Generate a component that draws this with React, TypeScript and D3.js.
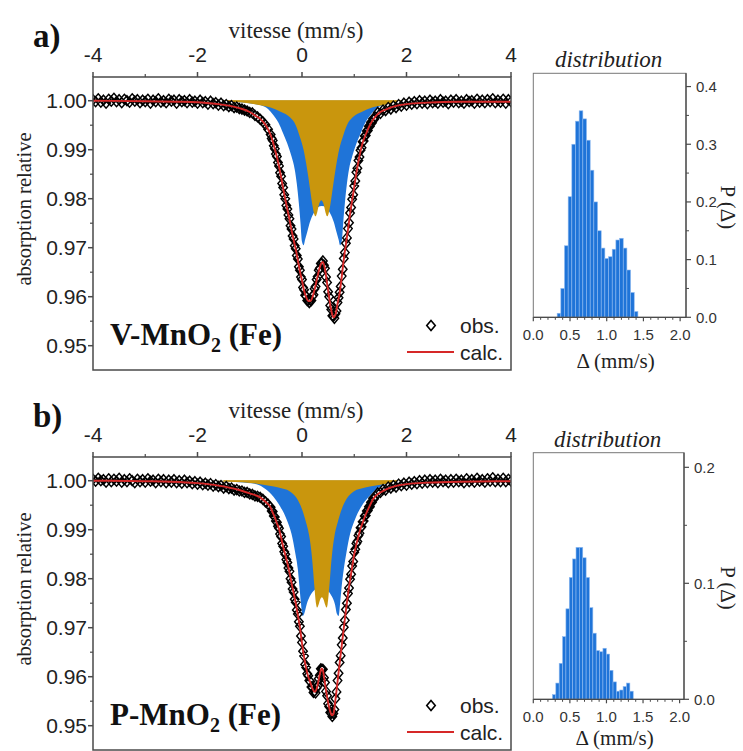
import React from "react";
import * as d3 from "d3";

// ---------- axis ticks ----------
const VEL_TICKS = [-4, -2, 0, 2, 4];
const VEL_MINOR = [-3, -1, 1, 3];
const ABS_TICKS = [0.95, 0.96, 0.97, 0.98, 0.99, 1.0];
const ABS_MINOR = [0.955, 0.965, 0.975, 0.985, 0.995];
const HIST_X_TICKS = [0, 0.5, 1.0, 1.5, 2.0];
const HIST_X_MINOR = [0.1, 0.2, 0.3, 0.4, 0.6, 0.7, 0.8, 0.9, 1.1, 1.2, 1.3, 1.4, 1.6, 1.7, 1.8, 1.9];
const HIST_A_TICKS = [0, 0.1, 0.2, 0.3, 0.4];
const HIST_A_MINOR = [0.05, 0.15, 0.25, 0.35];
const HIST_B_TICKS = [0, 0.1, 0.2];
const HIST_B_MINOR = [0.05, 0.15];

// ---------- velocity channels (mm/s) ----------
const VEL_LEFT = d3.range(68).map((i) => -4 + i * 0.05);
const VEL_DIP = d3.range(100).map((i) => -0.6 + i * 0.02);
const VEL_RIGHT = d3.range(53).map((i) => 1.4 + i * 0.05);
const VELOCITY = [...VEL_LEFT, ...VEL_DIP, ...VEL_RIGHT];

// ---------- panel a : V-MnO2 (Fe) observed ----------
const OBS_A_LEFT = [
  1.0002, 0.9998, 1.0004, 0.9997, 1.0001, 0.9995, 1.0003, 0.9999, 1.0005, 0.9998,
  1.0002, 0.9996, 1.0003, 1.0000, 0.9997, 1.0004, 0.9999, 1.0002, 0.9996, 1.0001,
  0.9998, 1.0003, 0.9995, 1.0001, 0.9998, 1.0004, 0.9997, 1.0000, 0.9996, 1.0003,
  0.9999, 1.0001, 0.9995, 1.0002, 0.9998, 1.0000, 0.9996, 1.0002, 0.9997, 0.9999,
  0.9995, 1.0001, 0.9996, 0.9998, 0.9993, 0.9999, 0.9994, 0.9996, 0.9991, 0.9995,
  0.9990, 0.9992, 0.9988, 0.9990, 0.9986, 0.9987, 0.9984, 0.9983, 0.9981, 0.9979,
  0.9976, 0.9975, 0.9970, 0.9967, 0.9962, 0.9957, 0.9951, 0.9942,
];
const OBS_A_DIP = [
  0.9931, 0.9923, 0.9919, 0.9908, 0.9902, 0.9891, 0.9886, 0.9874, 0.9867, 0.9853,
  0.9846, 0.9831, 0.9823, 0.9808, 0.9800, 0.9786, 0.9779, 0.9767, 0.9759, 0.9745,
  0.9738, 0.9724, 0.9718, 0.9704, 0.9698, 0.9684, 0.9677, 0.9661, 0.9654, 0.9640,
  0.9635, 0.9619, 0.9614, 0.9603, 0.9601, 0.9592, 0.9593, 0.9588, 0.9593, 0.9592,
  0.9601, 0.9604, 0.9616, 0.9621, 0.9635, 0.9641, 0.9654, 0.9658, 0.9668, 0.9668,
  0.9673, 0.9664, 0.9658, 0.9640, 0.9629, 0.9610, 0.9600, 0.9582, 0.9574, 0.9561,
  0.9560, 0.9556, 0.9565, 0.9571, 0.9588, 0.9598, 0.9609, 0.9621, 0.9642, 0.9656,
  0.9678, 0.9690, 0.9709, 0.9720, 0.9739, 0.9751, 0.9771, 0.9782, 0.9799, 0.9808,
  0.9826, 0.9836, 0.9854, 0.9862, 0.9878, 0.9885, 0.9899, 0.9904, 0.9916, 0.9918,
  0.9928, 0.9929, 0.9938, 0.9939, 0.9948, 0.9948, 0.9956, 0.9955, 0.9963, 0.9962,
];
const OBS_A_RIGHT = [
  0.9967, 0.9976, 0.9974, 0.9981, 0.9980, 0.9986, 0.9983, 0.9989, 0.9986, 0.9992,
  0.9989, 0.9995, 0.9991, 0.9997, 0.9993, 0.9998, 0.9994, 1.0000, 0.9995, 0.9999,
  0.9994, 1.0001, 0.9996, 0.9999, 0.9995, 1.0002, 0.9997, 0.9999, 0.9994, 1.0001,
  0.9997, 1.0002, 0.9996, 0.9999, 0.9995, 1.0002, 0.9998, 1.0000, 0.9995, 1.0003,
  0.9997, 1.0001, 0.9996, 1.0002, 0.9998, 1.0004, 0.9996, 1.0001, 0.9997, 1.0003,
  0.9995, 1.0002, 0.9998,
];
const OBS_A = [...OBS_A_LEFT, ...OBS_A_DIP, ...OBS_A_RIGHT];

const CALC_A: [number, number][] = [
  [-4, 1.0], [-3, 0.9999], [-2.4, 0.9998], [-2, 0.9997], [-1.6, 0.9993], [-1.4, 0.999],
  [-1.2, 0.9985], [-1.0, 0.9977], [-0.9, 0.997], [-0.8, 0.9963], [-0.7, 0.9951], [-0.6, 0.993],
  [-0.56, 0.9917], [-0.52, 0.9901], [-0.48, 0.9885], [-0.44, 0.9866], [-0.4, 0.9844],
  [-0.36, 0.9821], [-0.32, 0.9799], [-0.28, 0.9778], [-0.24, 0.9758], [-0.2, 0.9736],
  [-0.16, 0.9716], [-0.12, 0.9697], [-0.08, 0.9675], [-0.04, 0.9652], [0.0, 0.9633],
  [0.04, 0.9612], [0.08, 0.9599], [0.12, 0.9591], [0.16, 0.9591], [0.2, 0.9599],
  [0.24, 0.9614], [0.28, 0.9633], [0.32, 0.9652], [0.36, 0.9666], [0.4, 0.9671],
  [0.44, 0.9656], [0.48, 0.9627], [0.52, 0.9598], [0.56, 0.9572], [0.6, 0.9558],
  [0.64, 0.9563], [0.68, 0.9586], [0.72, 0.9607], [0.76, 0.964], [0.8, 0.9676],
  [0.84, 0.9707], [0.88, 0.9737], [0.92, 0.9769], [0.96, 0.9797], [1.0, 0.9824],
  [1.04, 0.9852], [1.08, 0.9876], [1.12, 0.9897], [1.16, 0.9914], [1.2, 0.9926],
  [1.24, 0.9936], [1.28, 0.9946], [1.32, 0.9954], [1.36, 0.9961], [1.4, 0.9967],
  [1.5, 0.9977], [1.6, 0.9982], [1.75, 0.9988], [2.0, 0.9993], [2.4, 0.9996],
  [3.0, 0.9998], [4.0, 0.9998],
];
const BLUE_A: [number, number][] = [
  [-4, 1], [-1.6, 0.9999], [-1.2, 0.9997], [-0.95, 0.9994], [-0.8, 0.9991], [-0.65, 0.9983],
  [-0.55, 0.9971], [-0.45, 0.9955], [-0.36, 0.9933], [-0.28, 0.9912], [-0.2, 0.9886],
  [-0.14, 0.986], [-0.1, 0.9831], [-0.06, 0.979], [-0.03, 0.9752], [0.0, 0.9712],
  [0.03, 0.9705], [0.06, 0.9717], [0.1, 0.9732], [0.15, 0.9752], [0.22, 0.977],
  [0.3, 0.9782], [0.38, 0.9785], [0.46, 0.9782], [0.54, 0.977], [0.61, 0.9752],
  [0.66, 0.9732], [0.7, 0.9717], [0.73, 0.9705], [0.76, 0.9712], [0.79, 0.9752],
  [0.82, 0.979], [0.86, 0.9831], [0.9, 0.986], [0.96, 0.9886], [1.04, 0.9912],
  [1.12, 0.9933], [1.21, 0.9955], [1.31, 0.9971], [1.41, 0.9983], [1.56, 0.9991],
  [1.71, 0.9994], [1.96, 0.9997], [2.4, 0.9999], [4, 1],
];
const GOLD_A: [number, number][] = [
  [-4, 1], [-1.4, 0.9998], [-0.9, 0.9993], [-0.6, 0.9986], [-0.4, 0.9977], [-0.23, 0.9966],
  [-0.12, 0.995], [-0.04, 0.9926], [0.03, 0.99], [0.08, 0.9872], [0.12, 0.9845],
  [0.16, 0.9815], [0.2, 0.9786], [0.23, 0.977], [0.26, 0.9764], [0.29, 0.9772],
  [0.33, 0.979], [0.37, 0.9797], [0.41, 0.979], [0.45, 0.9772], [0.48, 0.9764],
  [0.51, 0.977], [0.54, 0.9786], [0.58, 0.9815], [0.62, 0.9845], [0.66, 0.9872],
  [0.71, 0.99], [0.78, 0.9926], [0.86, 0.995], [0.97, 0.9966], [1.14, 0.9977],
  [1.34, 0.9986], [1.64, 0.9993], [2.14, 0.9998], [4, 1],
];

// ---------- panel b : P-MnO2 (Fe) observed ----------
const OBS_B_LEFT = [
  1.0003, 0.9999, 1.0005, 1.0000, 1.0002, 0.9997, 1.0004, 0.9998, 1.0003, 0.9999,
  1.0005, 0.9997, 1.0002, 0.9998, 1.0004, 1.0000, 0.9996, 1.0003, 0.9998, 1.0002,
  0.9997, 1.0004, 0.9999, 1.0001, 0.9996, 1.0003, 0.9998, 1.0002, 0.9996, 1.0001,
  0.9997, 1.0002, 0.9996, 1.0000, 0.9995, 1.0001, 0.9996, 0.9999, 0.9994, 0.9998,
  0.9993, 0.9997, 0.9992, 0.9995, 0.9991, 0.9994, 0.9989, 0.9992, 0.9988, 0.9990,
  0.9985, 0.9988, 0.9984, 0.9985, 0.9981, 0.9982, 0.9979, 0.9979, 0.9976, 0.9976,
  0.9973, 0.9972, 0.9969, 0.9968, 0.9966, 0.9962, 0.9957, 0.9952,
];
const OBS_B_DIP = [
  0.9946, 0.9938, 0.9937, 0.9928, 0.9926, 0.9918, 0.9915, 0.9907, 0.9903, 0.9891,
  0.9886, 0.9872, 0.9866, 0.9855, 0.9850, 0.9839, 0.9833, 0.9822, 0.9815, 0.9800,
  0.9793, 0.9779, 0.9773, 0.9758, 0.9752, 0.9736, 0.9728, 0.9712, 0.9703, 0.9683,
  0.9670, 0.9652, 0.9642, 0.9625, 0.9619, 0.9606, 0.9602, 0.9592, 0.9590, 0.9579,
  0.9578, 0.9568, 0.9571, 0.9567, 0.9577, 0.9581, 0.9596, 0.9603, 0.9616, 0.9615,
  0.9615, 0.9598, 0.9588, 0.9570, 0.9561, 0.9545, 0.9539, 0.9527, 0.9525, 0.9519,
  0.9525, 0.9533, 0.9555, 0.9569, 0.9592, 0.9607, 0.9629, 0.9643, 0.9665, 0.9679,
  0.9701, 0.9715, 0.9737, 0.9750, 0.9770, 0.9781, 0.9799, 0.9809, 0.9826, 0.9835,
  0.9854, 0.9860, 0.9872, 0.9876, 0.9888, 0.9893, 0.9904, 0.9906, 0.9916, 0.9918,
  0.9928, 0.9929, 0.9938, 0.9939, 0.9947, 0.9947, 0.9956, 0.9956, 0.9964, 0.9963,
];
const OBS_B_RIGHT = [
  0.9968, 0.9975, 0.9976, 0.9982, 0.9981, 0.9987, 0.9985, 0.9990, 0.9987, 0.9993,
  0.9990, 0.9995, 0.9991, 0.9997, 0.9993, 0.9998, 0.9994, 1.0000, 0.9995, 1.0001,
  0.9996, 1.0002, 0.9997, 1.0001, 0.9996, 1.0003, 0.9998, 1.0001, 0.9996, 1.0002,
  0.9997, 1.0003, 0.9998, 1.0001, 0.9996, 1.0004, 0.9998, 1.0002, 0.9997, 1.0005,
  0.9999, 1.0002, 0.9997, 1.0004, 0.9999, 1.0006, 0.9998, 1.0003, 0.9998, 1.0005,
  0.9998, 1.0003, 0.9999,
];
const OBS_B = [...OBS_B_LEFT, ...OBS_B_DIP, ...OBS_B_RIGHT];

const CALC_B: [number, number][] = [
  [-4, 1.0], [-3, 0.9999], [-2.5, 0.9998], [-2, 0.9995], [-1.6, 0.999], [-1.2, 0.9981],
  [-1.0, 0.9974], [-0.8, 0.9966], [-0.7, 0.9957], [-0.6, 0.9945],
  [-0.56, 0.9935], [-0.52, 0.9925], [-0.48, 0.9913], [-0.44, 0.9902], [-0.4, 0.9884],
  [-0.36, 0.9865], [-0.32, 0.9849], [-0.28, 0.9832], [-0.24, 0.9813], [-0.2, 0.9791],
  [-0.16, 0.9771], [-0.12, 0.975], [-0.08, 0.9726], [-0.04, 0.9701], [0.0, 0.9668],
  [0.04, 0.964], [0.08, 0.9617], [0.12, 0.96], [0.16, 0.9588], [0.2, 0.9576],
  [0.24, 0.9569], [0.28, 0.9575], [0.32, 0.9594], [0.36, 0.9613], [0.38, 0.9617],
  [0.4, 0.9613], [0.44, 0.9586], [0.48, 0.9559], [0.52, 0.9537], [0.56, 0.9523],
  [0.58, 0.9521], [0.6, 0.9523], [0.64, 0.9553], [0.68, 0.959], [0.72, 0.9627],
  [0.76, 0.9663], [0.8, 0.9699], [0.84, 0.9735], [0.88, 0.9768], [0.92, 0.9797],
  [0.96, 0.9824], [1.0, 0.985], [1.04, 0.987], [1.08, 0.9886], [1.12, 0.9902],
  [1.16, 0.9914], [1.2, 0.9926], [1.24, 0.9936], [1.28, 0.9945], [1.32, 0.9954],
  [1.36, 0.9962], [1.4, 0.9968], [1.5, 0.9976], [1.6, 0.9982], [1.75, 0.9988],
  [2.0, 0.9993], [2.4, 0.9996], [3.0, 0.9998], [4.0, 0.9999],
];
const BLUE_B: [number, number][] = [
  [-4, 1], [-1.6, 0.9999], [-1.2, 0.9997], [-0.87, 0.9993], [-0.7, 0.9983], [-0.55, 0.9968],
  [-0.42, 0.9948], [-0.29, 0.992], [-0.2, 0.9891], [-0.13, 0.9853], [-0.08, 0.982],
  [-0.05, 0.9785], [-0.02, 0.975], [0.01, 0.9724], [0.04, 0.9728], [0.09, 0.9748],
  [0.15, 0.9764], [0.22, 0.9775], [0.3, 0.9782], [0.36, 0.9784], [0.42, 0.9782],
  [0.5, 0.9775], [0.57, 0.9764], [0.63, 0.9748], [0.67, 0.9728], [0.7, 0.9724],
  [0.73, 0.975], [0.76, 0.9785], [0.8, 0.982], [0.85, 0.9853], [0.92, 0.9891],
  [1.01, 0.992], [1.14, 0.9948], [1.27, 0.9966], [1.43, 0.9983], [1.6, 0.9993],
  [1.95, 0.9997], [2.4, 0.9999], [4, 1],
];
const GOLD_B: [number, number][] = [
  [-4, 1], [-1.4, 0.9998], [-0.8, 0.9993], [-0.45, 0.9986], [-0.23, 0.9978], [-0.1, 0.9964],
  [0.0, 0.9942], [0.07, 0.9918], [0.14, 0.9886], [0.18, 0.9855], [0.21, 0.982],
  [0.24, 0.978], [0.27, 0.9748], [0.29, 0.9741], [0.32, 0.9748], [0.35, 0.9758],
  [0.38, 0.9762], [0.41, 0.9758], [0.44, 0.9748], [0.47, 0.9741], [0.49, 0.9748],
  [0.52, 0.978], [0.55, 0.982], [0.58, 0.9855], [0.62, 0.9886], [0.69, 0.9918],
  [0.76, 0.9942], [0.86, 0.9964], [0.99, 0.9978], [1.21, 0.9986], [1.56, 0.9993],
  [2.16, 0.9998], [4, 1],
];

// ---------- quadrupole splitting distributions ----------
const DELTA_A = [0.35, 0.4, 0.45, 0.5, 0.55, 0.6, 0.65, 0.7, 0.75, 0.8, 0.85, 0.9, 0.95, 1.0, 1.05, 1.1, 1.15, 1.2, 1.25, 1.3, 1.35, 1.4];
const PROB_A = [0.007, 0.05, 0.124, 0.209, 0.3, 0.34, 0.358, 0.344, 0.307, 0.255, 0.2, 0.15, 0.12, 0.102, 0.105, 0.118, 0.134, 0.137, 0.12, 0.082, 0.043, 0.01];
const DELTA_B = [0.285, 0.331, 0.377, 0.423, 0.469, 0.515, 0.561, 0.607, 0.653, 0.699, 0.745, 0.791, 0.837, 0.883, 0.929, 0.975, 1.021, 1.067, 1.113, 1.159, 1.205, 1.251, 1.297, 1.343];
const PROB_B = [0.004, 0.014, 0.031, 0.054, 0.078, 0.105, 0.121, 0.131, 0.131, 0.122, 0.105, 0.079, 0.057, 0.042, 0.041, 0.044, 0.039, 0.025, 0.015, 0.007, 0.008, 0.011, 0.014, 0.007];

const SERIF = "'Liberation Serif', 'Times New Roman', serif";
const SANS = "'Liberation Sans', Arial, sans-serif";
const BLUE = "#1f74d8";
const GOLD = "#c9960d";
const RED = "#d62828";
const AXIS = "#4a4a4a";

function diamondPath(cx: number, cy: number, r: number) {
  return `M${cx},${cy - r}L${cx + r * 0.85},${cy}L${cx},${cy + r}L${cx - r * 0.85},${cy}Z`;
}

type SpecProps = {
  top: number;
  obs: number[];
  calc: [number, number][];
  blue: [number, number][];
  gold: [number, number][];
  tag: string;
  sample: string;
  id: string;
};

function Spectrum({ top, obs, calc, blue, gold, tag, sample, id }: SpecProps) {
  const left = 93, right = 511, h = 293;
  const bottom = top + h;
  const x = d3.scaleLinear().domain([-4, 4]).range([left, right]);
  const y = d3.scaleLinear().domain([0.94504, 1.00484]).range([bottom, top]);
  const area = d3
    .area<[number, number]>()
    .x((d) => x(d[0]))
    .y0(y(1.0))
    .y1((d) => y(d[1]))
    .curve(d3.curveMonotoneX);
  const line = d3
    .line<[number, number]>()
    .x((d) => x(d[0]))
    .y((d) => y(d[1]))
    .curve(d3.curveMonotoneX);
  const pts = VELOCITY.map((v, i) => [v, obs[i]] as [number, number]);
  const diamonds = pts.map((p) => diamondPath(x(p[0]), y(p[1]), 5)).join("");
  return (
    <g>
      <defs>
        <clipPath id={id}>
          <rect x={left} y={top} width={right - left} height={h} />
        </clipPath>
      </defs>
      <g clipPath={`url(#${id})`}>
        <path d={area(blue) || ""} fill={BLUE} />
        <path d={area(gold) || ""} fill={GOLD} />
        <line x1={x(-1.5)} x2={x(2.2)} y1={y(1.0)} y2={y(1.0)} stroke={GOLD} strokeWidth={1} />
        <path d={diamonds} fill="#fff" stroke="#000" strokeWidth={1.45} />
        <path d={line(calc) || ""} fill="none" stroke={RED} strokeWidth={1.9} />
      </g>
      {/* frame */}
      <rect x={left} y={top} width={right - left} height={h} fill="none" stroke={AXIS} strokeWidth={1.5} />
      {/* top axis */}
      {VEL_TICKS.map((t) => (
        <g key={"vt" + t}>
          <line x1={x(t)} x2={x(t)} y1={top} y2={top - 5} stroke={AXIS} strokeWidth={1.5} />
          <text x={x(t)} y={top - 15} textAnchor="middle" fontFamily={SANS} fontSize={21} fill="#222">
            {t}
          </text>
        </g>
      ))}
      {VEL_MINOR.map((t) => (
        <line key={"vm" + t} x1={x(t)} x2={x(t)} y1={top} y2={top - 3} stroke={AXIS} strokeWidth={1.2} />
      ))}
      {/* left axis */}
      {ABS_TICKS.map((t) => (
        <g key={"at" + t}>
          <line x1={left} x2={left - 5} y1={y(t)} y2={y(t)} stroke={AXIS} strokeWidth={1.5} />
          <text x={left - 6} y={y(t) + 7.5} textAnchor="end" fontFamily={SANS} fontSize={21} fill="#222">
            {t.toFixed(2)}
          </text>
        </g>
      ))}
      {ABS_MINOR.map((t) => (
        <line key={"am" + t} x1={left} x2={left - 3} y1={y(t)} y2={y(t)} stroke={AXIS} strokeWidth={1.2} />
      ))}
      <text x={(left + right) / 2 - 6} y={top - 39} textAnchor="middle" fontFamily={SERIF} fontSize={23} fill="#222">
        vitesse (mm/s)
      </text>
      <text
        transform={`translate(31, ${top + 132}) rotate(-90)`}
        textAnchor="middle"
        fontFamily={SERIF}
        fontSize={20.5}
        fill="#222"
      >
        absorption relative
      </text>
      <text x={33} y={top - 30} fontFamily={SERIF} fontWeight="bold" fontSize={33} fill="#111">
        {tag}
      </text>
      {/* sample name */}
      <text x={110} y={bottom - 25} fontFamily={SERIF} fontWeight="bold" fontSize={31} fill="#111">
        {sample}
        <tspan fontSize={20} dy={7}>2</tspan>
        <tspan dy={-7}>{"\u00A0(Fe)"}</tspan>
      </text>
      {/* legend */}
      <path d={diamondPath(431, bottom - 44.5, 5)} fill="#fff" stroke="#000" strokeWidth={1.6} />
      <text x={460} y={bottom - 37} fontFamily={SANS} fontSize={21} fill="#222">obs.</text>
      <line x1={407} x2={454} y1={bottom - 18} y2={bottom - 18} stroke={RED} strokeWidth={2} />
      <text x={460} y={bottom - 10.5} fontFamily={SANS} fontSize={21} fill="#222">calc.</text>
    </g>
  );
}

type HistProps = {
  top: number;
  bottom: number;
  right: number;
  xMax: number;
  yMax: number;
  deltas: number[];
  probs: number[];
  width: number;
  ticks: number[];
  minor: number[];
  labelY: number;
};

function Hist({ top, bottom, right, xMax, yMax, deltas, probs, width, ticks, minor, labelY }: HistProps) {
  const left = 533.3;
  const x = d3.scaleLinear().domain([0, xMax]).range([left, right]);
  const y = d3.scaleLinear().domain([0, yMax]).range([bottom, top]);
  const cx = (left + right) / 2;
  return (
    <g>
      {deltas.map((d, i) => (
        <rect
          key={i}
          x={x(d - width / 2)}
          y={y(probs[i])}
          width={x(d + width / 2) - x(d - width / 2)}
          height={y(0) - y(probs[i])}
          fill={BLUE}
          stroke="#8fbaf0"
          strokeWidth={0.6}
        />
      ))}
      <rect x={left} y={top} width={right - left} height={bottom - top} fill="none" stroke="#777" strokeWidth={1} />
      <line x1={left} x2={right} y1={bottom} y2={bottom} stroke={AXIS} strokeWidth={1.3} />
      <line x1={right} x2={right} y1={top} y2={bottom} stroke={AXIS} strokeWidth={1.3} />
      {HIST_X_TICKS.map((t) => (
        <g key={"hx" + t}>
          <line x1={x(t)} x2={x(t)} y1={bottom} y2={bottom + 4} stroke={AXIS} strokeWidth={1.2} />
          <text x={x(t)} y={bottom + 23} textAnchor="middle" fontFamily={SANS} fontSize={15} fill="#333">
            {t.toFixed(1)}
          </text>
        </g>
      ))}
      {HIST_X_MINOR.map((t) => (
        <line key={"hm" + t} x1={x(t)} x2={x(t)} y1={bottom} y2={bottom + 2.5} stroke={AXIS} strokeWidth={1} />
      ))}
      {ticks.map((t) => (
        <g key={"hy" + t}>
          <line x1={right} x2={right + 5} y1={y(t)} y2={y(t)} stroke={AXIS} strokeWidth={1.2} />
          <text x={right + 10} y={y(t) + 5.5} fontFamily={SANS} fontSize={15} fill="#333">
            {t.toFixed(1)}
          </text>
        </g>
      ))}
      {minor.map((t) => (
        <line key={"hym" + t} x1={right} x2={right + 3} y1={y(t)} y2={y(t)} stroke={AXIS} strokeWidth={1} />
      ))}
      <text x={cx - 1} y={top - 6} textAnchor="middle" fontFamily={SERIF} fontStyle="italic" fontSize={23} fill="#222">
        distribution
      </text>
      <text x={cx + 6} y={labelY} textAnchor="middle" fontFamily={SERIF} fontSize={21} fill="#222">
        Δ (mm/s)
      </text>
      <text
        transform={`translate(721, ${(top + bottom) / 2 + 12}) rotate(90)`}
        textAnchor="middle"
        fontFamily={SERIF}
        fontSize={21}
        fill="#222"
      >
        P (Δ)
      </text>
    </g>
  );
}

export default function App() {
  return (
    <svg
      width={743}
      height={751}
      viewBox="0 0 743 751"
      style={{ position: "absolute", left: 0, top: 0, background: "#fff" }}
    >
      <rect x={0} y={0} width={743} height={751} fill="#fff" />
      <Spectrum top={77} obs={OBS_A} calc={CALC_A} blue={BLUE_A} gold={GOLD_A} tag="a)" sample="V-MnO" id="clipA" />
      <Spectrum top={457} obs={OBS_B} calc={CALC_B} blue={BLUE_B} gold={GOLD_B} tag="b)" sample="P-MnO" id="clipB" />
      <Hist
        top={73.3}
        bottom={317.3}
        right={686}
        xMax={2.08}
        yMax={0.423}
        deltas={DELTA_A}
        probs={PROB_A}
        width={0.05}
        ticks={HIST_A_TICKS}
        minor={HIST_A_MINOR}
        labelY={368}
      />
      <Hist
        top={452.7}
        bottom={699.3}
        right={684}
        xMax={2.06}
        yMax={0.2126}
        deltas={DELTA_B}
        probs={PROB_B}
        width={0.046}
        ticks={HIST_B_TICKS}
        minor={HIST_B_MINOR}
        labelY={745}
      />
    </svg>
  );
}
